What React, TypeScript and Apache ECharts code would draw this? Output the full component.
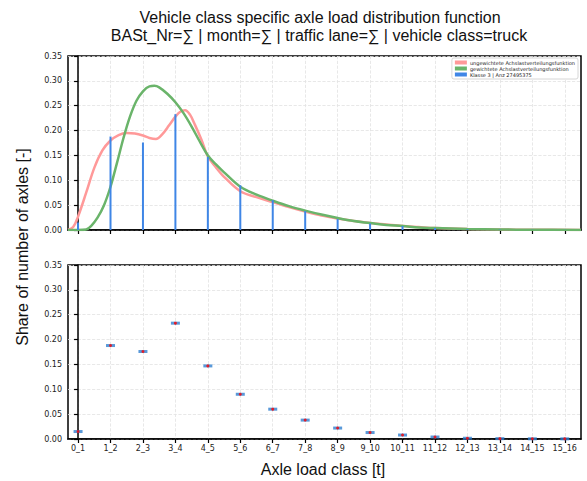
import React, { useEffect, useRef } from "react";
import * as echarts from "echarts";

const classLabels = ["0_1","1_2","2_3","3_4","4_5","5_6","6_7","7_8","8_9","9_10","10_11","11_12","12_13","13_14","14_15","15_16"];
const shareValues = [0.015, 0.188, 0.176, 0.233, 0.147, 0.090, 0.060, 0.038, 0.022, 0.013, 0.008, 0.004, 0.0015, 0.0007, 0.0004, 0.0003];

const redX = [-0.31,-0.15,0,0.25,0.5,0.75,1,1.25,1.5,1.75,2,2.2,2.4,2.6,2.8,3,3.15,3.3,3.45,3.6,3.8,4,4.25,4.5,5,5.5,6,6.5,7,7.5,8,8.5,9,9.5,10,10.5,11,12,13,14,15.5];
const redY = [0,0.006,0.027,0.075,0.125,0.16,0.18,0.191,0.195,0.194,0.19,0.185,0.183,0.193,0.21,0.228,0.238,0.241,0.232,0.212,0.182,0.148,0.126,0.107,0.078,0.066,0.056,0.046,0.037,0.029,0.023,0.018,0.014,0.011,0.008,0.006,0.004,0.002,0.001,0.0005,0.0002];

const greenX = [-0.31,0,0.25,0.4,0.6,0.8,1,1.2,1.4,1.6,1.8,2,2.2,2.35,2.5,2.75,3,3.25,3.5,3.75,4,4.25,4.5,5,5.5,6,6.5,7,7.5,8,8.5,9,9.5,10,10.5,11,12,13,14,15.5];
const greenY = [0,0,0.001,0.008,0.025,0.05,0.087,0.135,0.185,0.228,0.26,0.279,0.289,0.29,0.287,0.274,0.257,0.235,0.208,0.178,0.15,0.132,0.116,0.087,0.071,0.059,0.048,0.039,0.031,0.024,0.018,0.014,0.01,0.008,0.005,0.004,0.002,0.001,0.0005,0.0002];

const nameRed = "ungewichtete Achslastverteilungsfunktion";
const nameGreen = "gewichtete Achslastverteilungsfunktion";
const nameBar = "Klasse 3 | Anz 27495375";

export default function App() {
  const ref = useRef<HTMLDivElement>(null);
  useEffect(() => {
    document.body.style.margin = "0";
    const chart = echarts.init(ref.current!, null, { renderer: "svg" });
    const idx = classLabels.map((_, i) => i);
    const tickFont = { fontSize: 8, fontFamily: "DejaVu Sans", color: "#222" };
    const split = { show: true, lineStyle: { type: "dashed" as const, color: "#e2e2e2", width: 0.8 } };
    const xAxisBase = (gi: number, labels: boolean) => ({
      type: "value",
      gridIndex: gi,
      min: -0.31,
      max: 15.5,
      axisLine: { show: true, onZero: false, lineStyle: { color: "#000", width: 1.5 } },
      axisTick: { show: true, customValues: idx, length: 4, lineStyle: { color: "#000", width: 1.2 } },
      axisLabel: labels
        ? { show: true, customValues: idx, formatter: (v: number) => classLabels[Math.round(v)] ?? "", margin: 5, ...tickFont }
        : { show: false },
      splitLine: split,
    });
    const yAxisBase = (gi: number) => ({
      type: "value",
      gridIndex: gi,
      min: 0,
      max: 0.35,
      interval: 0.05,
      axisLine: { show: true, lineStyle: { color: "#000", width: 1.5 } },
      axisTick: { show: true, length: 4, lineStyle: { color: "#000", width: 1.2 } },
      axisLabel: { formatter: (v: number) => v.toFixed(2), margin: 6, ...tickFont },
      splitLine: split,
    });
    const titleFont = "16px 'Liberation Sans', Arial, sans-serif";
    chart.setOption({
      animation: false,
      grid: [
        { left: 68, right: 6, top: 56, height: 174, show: true, borderColor: "#000", borderWidth: 1.5, backgroundColor: "transparent" },
        { left: 68, right: 6, top: 265, height: 174, show: true, borderColor: "#000", borderWidth: 1.5, backgroundColor: "transparent" },
      ],
      xAxis: [xAxisBase(0, false), xAxisBase(1, true)],
      yAxis: [yAxisBase(0), yAxisBase(1)],
      legend: {
        orient: "vertical",
        right: 9,
        top: 58,
        itemWidth: 12,
        itemHeight: 4,
        itemGap: 1,
        padding: [2, 3],
        borderColor: "#cccccc",
        borderWidth: 0.8,
        borderRadius: 2,
        backgroundColor: "#fff",
        textStyle: { fontSize: 5, fontFamily: "DejaVu Sans", color: "#222", padding: [0, 0, 0, -2] },
        data: [
          { name: nameRed, icon: "rect" },
          { name: nameGreen, icon: "rect" },
          { name: nameBar, icon: "rect" },
        ],
      },
      graphic: [
        { type: "text", x: 320, y: 17, style: { text: "Vehicle class specific axle load distribution function", font: titleFont, fill: "#111", textAlign: "center", textVerticalAlign: "middle" } },
        { type: "text", x: 319, y: 35, style: { text: "BASt_Nr=∑ | month=∑ | traffic lane=∑ | vehicle class=truck", font: titleFont, fill: "#111", textAlign: "center", textVerticalAlign: "middle" } },
        { type: "text", x: 22, y: 247, rotation: Math.PI / 2, style: { text: "Share of number of axles [-]", font: titleFont, fill: "#111", textAlign: "center", textVerticalAlign: "middle" } },
        { type: "text", x: 323, y: 469, style: { text: "Axle load class [t]", font: titleFont, fill: "#111", textAlign: "center", textVerticalAlign: "middle" } },
      ],
      series: [
        {
          name: nameRed,
          type: "line",
          xAxisIndex: 0,
          yAxisIndex: 0,
          data: redX.map((x, i) => [x, redY[i]]),
          smooth: 0.35,
          showSymbol: false,
          itemStyle: { color: "#ff9999" },
          lineStyle: { color: "#ff9999", width: 2.5 },
          z: 3,
        },
        {
          name: nameGreen,
          type: "line",
          xAxisIndex: 0,
          yAxisIndex: 0,
          data: greenX.map((x, i) => [x, greenY[i]]),
          smooth: 0.35,
          showSymbol: false,
          itemStyle: { color: "#6ab46a" },
          lineStyle: { color: "#6ab46a", width: 2.5 },
          z: 3,
        },
        {
          name: nameBar,
          type: "bar",
          xAxisIndex: 0,
          yAxisIndex: 0,
          data: shareValues.map((v, i) => [i, v]),
          barWidth: 2,
          itemStyle: { color: "#3f86e6" },
          z: 4,
        },
        {
          type: "scatter",
          xAxisIndex: 1,
          yAxisIndex: 1,
          data: shareValues.map((v, i) => [i, v]),
          symbol: "rect",
          symbolSize: [9, 3],
          itemStyle: { color: "#2f7fd0" },
          z: 3,
        },
        {
          type: "scatter",
          xAxisIndex: 1,
          yAxisIndex: 1,
          data: shareValues.map((v, i) => [i, v]),
          symbol: "circle",
          symbolSize: 3,
          itemStyle: { color: "#ff0000" },
          z: 4,
        },
      ],
    });
    return () => chart.dispose();
  }, []);
  return <div ref={ref} style={{ width: 587, height: 481 }} />;
}
